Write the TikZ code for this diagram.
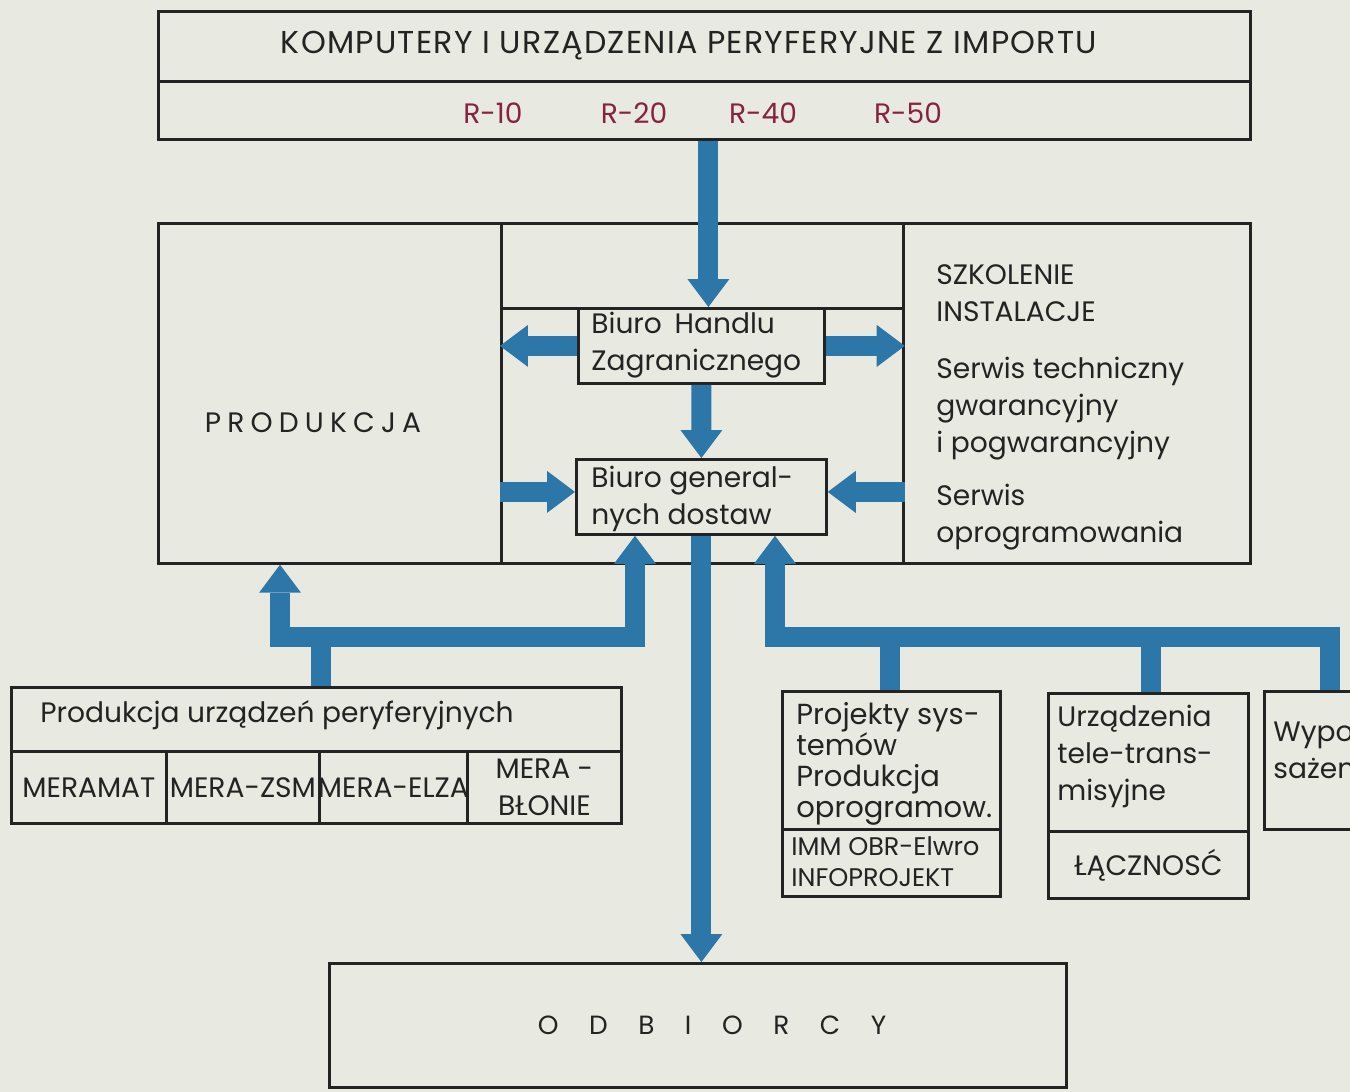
\documentclass[tikz,border=0pt]{standalone}
\usepackage{fontspec}
\setmainfont{Poppins}
\usetikzlibrary{arrows.meta,positioning}

\definecolor{paper}{RGB}{232,233,224}
\definecolor{ink}{RGB}{35,35,35}
\definecolor{flowblue}{RGB}{45,118,168}
\definecolor{rmark}{RGB}{135,35,60}

\tikzset{
  box/.style={draw=ink, line width=1.6pt, inner sep=0pt, anchor=north west},
  txt/.style={text=ink, font=\fontsize{16}{21}\selectfont, inner sep=0pt},
  smalltxt/.style={text=ink, font=\fontsize{14.5}{17.6}\selectfont, inner sep=0pt},
  rlabel/.style={text=rmark, font=\fontsize{16}{21}\selectfont, inner sep=0pt},
  flowtip/.tip={Triangle[length=5.6mm,width=8.4mm,line width=0pt]},
  flowline/.style={draw=flowblue, line width=4mm},
  flow/.style={flowline, -flowtip},
  flowboth/.style={flowline, flowtip-flowtip},
}

\begin{document}
\begin{tikzpicture}[x=0.02cm, y=-0.02cm, line join=miter]
\fill[paper] (0,0) rectangle (1350,1092);
\useasboundingbox (0,0) rectangle (1350,1092);
\clip (0,0) rectangle (1350,1092);

% import
\node[box, minimum width=21.84cm, minimum height=1.40cm] (imp) at (157,10) {};
\node[box, minimum width=21.84cm, minimum height=1.16cm] (rrow) at (157,80) {};
\node[txt, font=\fontsize{18}{21}\selectfont\addfontfeature{LetterSpace=4}] (imptxt) at (689,46) {KOMPUTERY I URZĄDZENIA PERYFERYJNE Z IMPORTU};
\node[rlabel] (r10) at (493,113) {R-10};
\node[rlabel] (r20) at (634,113) {R-20};
\node[rlabel] (r40) at (763,113) {R-40};
\node[rlabel] (r50) at (908,113) {R-50};

% middle block
\node[box, minimum width=6.86cm, minimum height=6.80cm] (prod) at (157,222) {};
\node[box, minimum width=8.04cm, minimum height=1.70cm] (midtop) at (500,222) {};
\node[box, minimum width=8.04cm, minimum height=5.10cm] (mid) at (500,307) {};
\node[box, minimum width=6.94cm, minimum height=6.80cm] (serw) at (902,222) {};
\node[box, minimum width=4.92cm, minimum height=1.50cm] (bhz) at (577,307) {};
\node[box, minimum width=5.00cm, minimum height=1.50cm] (bgd) at (575,458) {};

\node[txt, font=\fontsize{16}{21}\selectfont\addfontfeature{LetterSpace=22}] (prodtxt) at (313,423) {PRODUKCJA};
\node[txt, anchor=west, align=left] (bhztxt) at (591,345) {Biuro\hspace{0.45em}Handlu\\Zagranicznego};
\node[txt, anchor=west, align=left] (bgdtxt) at (591,499) {Biuro general-\\nych dostaw};
\node[txt, anchor=north west, align=left] (serwtxt) at (936,264)
  {SZKOLENIE\\INSTALACJE\\[0.42cm]Serwis techniczny\\gwarancyjny\\i pogwarancyjny\\[0.32cm]Serwis\\oprogramowania};

% suppliers
\node[box, minimum width=12.20cm, minimum height=1.28cm] (pur) at (10,686) {};
\node[box, minimum width=3.10cm, minimum height=1.44cm] (meramat) at (10,750) {};
\node[box, minimum width=3.06cm, minimum height=1.44cm] (merazsm) at (165,750) {};
\node[box, minimum width=2.96cm, minimum height=1.44cm] (meraelza) at (318,750) {};
\node[box, minimum width=3.08cm, minimum height=1.44cm] (merablon) at (466,750) {};
\node[txt, anchor=west] (purtxt) at (40,715) {Produkcja urządzeń peryferyjnych};
\node[txt] at (meramat.center) {MERAMAT};
\node[txt] at (merazsm.center) {MERA-ZSM};
\node[txt] at (meraelza.center) {MERA-ELZA};
\node[txt, align=center] at (merablon.center) {MERA -\\BŁONIE};

\node[box, minimum width=4.36cm, minimum height=2.76cm] (proj) at (781,690) {};
\node[box, minimum width=4.36cm, minimum height=1.34cm] (imm) at (781,828) {};
\node[box, minimum width=4.00cm, minimum height=2.76cm] (urz) at (1047,692) {};
\node[box, minimum width=4.00cm, minimum height=1.34cm] (lacz) at (1047,830) {};
\node[box, minimum width=2.00cm, minimum height=2.76cm] (wyp) at (1263,690) {};
\node[txt, font=\fontsize{16.5}{17.6}\selectfont, anchor=north west, align=left] (projtxt) at (796,702) {Projekty sys-\\temów\\Produkcja\\oprogramow.};
\node[smalltxt, anchor=west, align=left] (immtxt) at (791,862) {IMM OBR-Elwro\\INFOPROJEKT};
\node[txt, anchor=north west, align=left] (urztxt) at (1057,705) {Urządzenia\\tele-trans-\\misyjne};
\node[txt] (lacztxt) at (lacz.center) {ŁĄCZNOSĆ};
\node[txt, anchor=north west, align=left] (wyptxt) at (1273,722) {Wypo-\\sażenie};

% odbiorcy
\node[box, minimum width=14.74cm, minimum height=2.48cm] (odb) at (328,962) {};
\node[txt, font=\fontsize{15}{20}\selectfont\addfontfeature{LetterSpace=116}] (odbtxt) at (712,1025) {ODBIORCY};

% flows
\coordinate (inflow) at ([xshift=1.4mm]bhz.north);
\draw[flow] (inflow |- rrow.south) -- (inflow);
\draw[flow] (bhz.west) -- (bhz.west -| mid.west);
\draw[flow] (bhz.east) -- (bhz.east -| mid.east);
\draw[flow] (bhz.south) -- (bgd.north);
\coordinate (gin) at ([yshift=1mm]bgd.west);
\coordinate (gout) at ([yshift=1mm]bgd.east);
\draw[flow] (gin -| mid.west) -- (gin);
\draw[flow] (gout -| mid.east) -- (gout);
\draw[flow] (bgd.south) -- (bgd.south |- odb.north);

\coordinate (lc1) at (280,637);
\coordinate (lc2) at (635,637);
\coordinate (lstub) at (321,637);
\draw[flowboth] (lc1 |- prod.south) -- (lc1) -- (lc2) -- (lc2 |- bgd.south);
\draw[flowline] (lstub |- pur.north) -- (lstub);

\coordinate (rc1) at (775,637);
\coordinate (rc2) at (1330,637);
\coordinate (rs1) at (890,637);
\coordinate (rs2) at (1151,637);
\draw[flow] (rc2 |- wyp.north) -- (rc2) -- (rc1) -- (rc1 |- bgd.south);
\draw[flowline] (rs1 |- proj.north) -- (rs1);
\draw[flowline] (rs2 |- urz.north) -- (rs2);
\end{tikzpicture}
\end{document}
